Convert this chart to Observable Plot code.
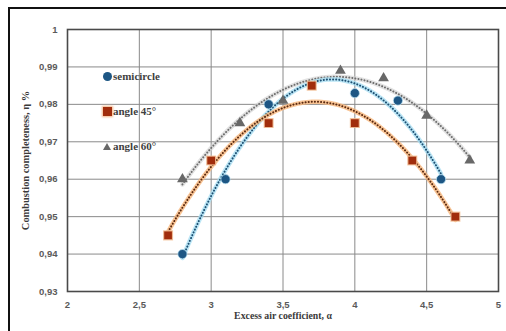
<!DOCTYPE html>
<html>
<head>
<meta charset="utf-8">
<script src="https://cdn.jsdelivr.net/npm/d3@7"></script>
<script src="https://cdn.jsdelivr.net/npm/@observablehq/plot@0.6"></script>
<style>
  html, body { margin: 0; padding: 0; background: #fff; }
  body { width: 506px; height: 331px; overflow: hidden; position: relative; }
  #frame { position: absolute; left: 8px; top: 7px; width: 540px; height: 360px;
           border: 2px solid #111; box-sizing: border-box; pointer-events: none; }
  #chart { position: absolute; left: 0; top: 0; }
  #chart svg text { font-family: "Liberation Sans", Arial, sans-serif; }
  #chart svg [aria-label="x-axis tick label"] text,
  #chart svg [aria-label="y-axis tick label"] text { fill: #5a5a5a; font-weight: bold; font-size: 9.5px; }
  #chart svg [aria-label="x-axis label"] text,
  #chart svg [aria-label="y-axis label"] text { font-family: "Liberation Serif", "Times New Roman", serif;
           font-weight: bold; fill: #3a3a3a; }
  #chart svg [aria-label="x-axis label"] text { font-size: 9.8px; }
  #chart svg [aria-label="y-axis label"] text { font-size: 10.4px; }
  #legend { position: absolute; left: 102px; top: 69px; font-family: "Liberation Serif", "Times New Roman", serif;
            font-weight: bold; font-size: 11px; color: #3f3f3f; }
  .item { display: flex; align-items: center; height: 14px; margin-bottom: 21px; }
  .sw { width: 10px; height: 10px; margin-right: 1px; display: flex; align-items: center; justify-content: center; }
  .c { width: 9px; height: 9px; border-radius: 50%; background: #1d5684; }
  .s { width: 9px; height: 9px; background: #a12d0c; box-shadow: 0 0 2px 1px #f3b385; }
  .t { width: 0; height: 0; border-left: 4px solid transparent; border-right: 4px solid transparent;
       border-bottom: 7px solid #686868; }
</style>
</head>
<body>
<div id="chart"></div>
<div id="legend"></div>
<div id="frame"></div>
<script>
// Excess air coefficient α and combustion completeness η for three nozzle shapes
const semicircleX = [2.8, 3.1, 3.4, 4.0, 4.3, 4.6];
const semicircleY = [0.940, 0.960, 0.980, 0.983, 0.981, 0.960];

const angle45X = [2.7, 3.0, 3.4, 3.7, 4.0, 4.4, 4.7];
const angle45Y = [0.945, 0.965, 0.975, 0.985, 0.975, 0.965, 0.950];

const angle60X = [2.8, 3.2, 3.5, 3.9, 4.2, 4.5, 4.8];
const angle60Y = [0.960, 0.975, 0.981, 0.989, 0.987, 0.977, 0.965];

const seriesNames = ["semicircle", "angle 45°", "angle 60°"];
const xTicks = [2, 2.5, 3, 3.5, 4, 4.5, 5];
const yTicks = [0.93, 0.94, 0.95, 0.96, 0.97, 0.98, 0.99, 1];

const toRows = (xs, ys, name) => xs.map((x, i) => ({x, y: ys[i], name}));
const semicircle = toRows(semicircleX, semicircleY, seriesNames[0]);
const angle45 = toRows(angle45X, angle45Y, seriesNames[1]);
const angle60 = toRows(angle60X, angle60Y, seriesNames[2]);

// Second-order polynomial trend line (least squares), sampled over the series range
function polyTrend(rows) {
  let s = [0, 0, 0, 0, 0], t = [0, 0, 0];
  for (const {x, y} of rows) {
    for (let k = 0; k <= 4; k++) s[k] += x ** k;
    for (let k = 0; k <= 2; k++) t[k] += y * x ** k;
  }
  const A = [[s[0], s[1], s[2], t[0]], [s[1], s[2], s[3], t[1]], [s[2], s[3], s[4], t[2]]];
  for (let i = 0; i < 3; i++) {
    for (let j = i + 1; j < 3; j++) {
      const f = A[j][i] / A[i][i];
      for (let k = i; k < 4; k++) A[j][k] -= f * A[i][k];
    }
  }
  const c = [0, 0, 0];
  for (let i = 2; i >= 0; i--) {
    let v = A[i][3];
    for (let k = i + 1; k < 3; k++) v -= A[i][k] * c[k];
    c[i] = v / A[i][i];
  }
  const [x0, x1] = d3.extent(rows, d => d.x);
  return d3.range(x0, x1 + 1e-9, (x1 - x0) / 120).concat([x1])
    .map(x => ({x, y: c[0] + c[1] * x + c[2] * x * x}));
}

const comma = d => String(d).replace(".", ",");

const trend = (rows, halo, dot, haloOpacity) => [
  Plot.line(polyTrend(rows), {x: "x", y: "y", stroke: halo, strokeWidth: 4.5, strokeOpacity: haloOpacity, curve: "linear"}),
  Plot.line(polyTrend(rows), {x: "x", y: "y", stroke: dot, strokeWidth: 2, strokeDasharray: "0.1 3", strokeLinecap: "round"})
];

const chart = Plot.plot({
  width: 506,
  height: 331,
  marginLeft: 67,
  marginRight: 8,
  marginTop: 29,
  marginBottom: 40,
  style: {background: "transparent", overflow: "visible"},
  x: {domain: [2, 5], ticks: xTicks, tickFormat: comma, label: "Excess air coefficient, α",
      labelAnchor: "center", labelOffset: 27, tickSize: 0, tickPadding: 10, labelArrow: "none"},
  y: {domain: [0.93, 1], ticks: yTicks, tickFormat: comma, label: "Combustion completeness, η %",
      labelAnchor: "center", labelOffset: 46, tickSize: 0, tickPadding: 10, labelArrow: "none"},
  marks: [
    Plot.gridX(xTicks, {stroke: "#8a8a8a", strokeOpacity: 1, strokeWidth: 1}),
    Plot.gridY(yTicks, {stroke: "#8a8a8a", strokeOpacity: 1, strokeWidth: 1}),
    Plot.frame({stroke: "#4a4a4a", strokeWidth: 1.6}),
    ...trend(angle60, "#cfcfcf", "#6e6e6e", 0.6),
    ...trend(semicircle, "#a9def2", "#1d5073", 0.8),
    ...trend(angle45, "#f7b77c", "#5c2a10", 0.8),
    Plot.dot(angle60, {x: "x", y: "y", symbol: "triangle", r: 4, fill: "#686868"}),
    Plot.dot(semicircle, {x: "x", y: "y", symbol: "circle", r: 4.6, fill: "#1d5684", stroke: "#bfe6f5", strokeWidth: 1, strokeOpacity: 0.7}),
    Plot.dot(angle45, {x: "x", y: "y", symbol: "square", r: 5, fill: "#a12d0c", stroke: "#f5c39a", strokeWidth: 1.2, strokeOpacity: 0.8})
  ]
});
document.getElementById("chart").append(chart);

// Legend entries drawn inside the plotting area
const swatchClass = ["c", "s", "t"];
const legend = document.getElementById("legend");
seriesNames.forEach((name, i) => {
  const item = document.createElement("div");
  item.className = "item";
  item.innerHTML = `<span class="sw"><span class="${swatchClass[i]}"></span></span><span>${name}</span>`;
  legend.append(item);
});
</script>
</body>
</html>
